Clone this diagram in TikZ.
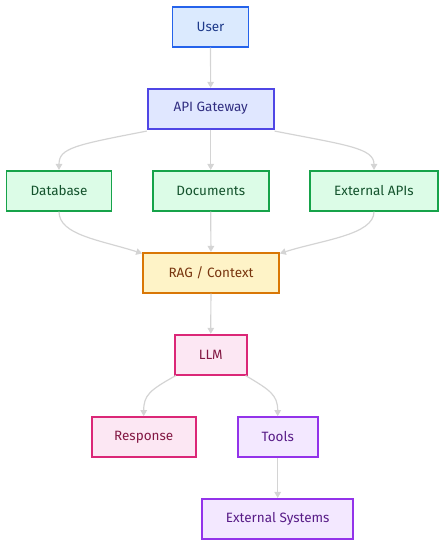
\documentclass[tikz,border=0pt]{standalone}
\usepackage{fontspec}
\setmainfont{Fira Sans}
\usetikzlibrary{arrows.meta}

\definecolor{bluefill}{HTML}{DBEAFE}
\definecolor{blueline}{HTML}{2563EB}
\definecolor{bluetext}{HTML}{1E3A8A}
\definecolor{indfill}{HTML}{E0E7FF}
\definecolor{indline}{HTML}{4F46E5}
\definecolor{indtext}{HTML}{312E81}
\definecolor{grnfill}{HTML}{DCFCE7}
\definecolor{grnline}{HTML}{16A34A}
\definecolor{grntext}{HTML}{14532D}
\definecolor{orgfill}{HTML}{FEF3C7}
\definecolor{orgline}{HTML}{D97706}
\definecolor{orgtext}{HTML}{78350F}
\definecolor{pnkfill}{HTML}{FCE7F3}
\definecolor{pnkline}{HTML}{DB2777}
\definecolor{pnktext}{HTML}{831843}
\definecolor{prpfill}{HTML}{F3E8FF}
\definecolor{prpline}{HTML}{9333EA}
\definecolor{prptext}{HTML}{581C87}
\definecolor{edgegray}{HTML}{D4D4D4}

\begin{document}
\begin{tikzpicture}[x=1pt, y=-1pt,
    box/.style={draw, line width=1.7pt, minimum height=40pt, inner sep=0pt, font=\fontsize{13.5}{15}\selectfont},
    bluebox/.style={box, fill=bluefill, draw=blueline, text=bluetext},
    indbox/.style={box, fill=indfill, draw=indline, text=indtext},
    grnbox/.style={box, fill=grnfill, draw=grnline, text=grntext},
    orgbox/.style={box, fill=orgfill, draw=orgline, text=orgtext},
    pnkbox/.style={box, fill=pnkfill, draw=pnkline, text=pnktext},
    prpbox/.style={box, fill=prpfill, draw=prpline, text=prptext},
    link/.style={draw=edgegray, line width=1.2pt, -{Triangle[length=6pt,width=6.5pt]}}]
    \useasboundingbox (0,0) rectangle (445,546);

    \node[bluebox, minimum width=76pt] (user) at (210.5, 26.7) {User};
    \node[indbox, minimum width=126pt] (gateway) at (210.7, 108.7) {API Gateway};
    \node[grnbox, minimum width=105pt] (db) at (59, 190.8) {Database};
    \node[grnbox, minimum width=116pt] (docs) at (210.7, 190.8) {Documents};
    \node[grnbox, minimum width=128pt] (extapis) at (374, 190.8) {External APIs};
    \node[orgbox, minimum width=136pt] (rag) at (211, 272.8) {RAG / Context};
    \node[pnkbox, minimum width=72pt] (llm) at (210.7, 354.7) {LLM};
    \node[pnkbox, minimum width=104pt] (response) at (143.7, 437) {Response};
    \node[prpbox, minimum width=80pt] (tools) at (277.7, 437) {Tools};
    \node[prpbox, minimum width=151pt] (extsys) at (277.7, 518.8) {External Systems};

    \draw[link] (user) -- (gateway);
    \draw[link] ([yshift=-1.5pt]gateway.south west) .. controls (75,145) and (59,148) .. (db.north);
    \draw[link] (gateway) -- (docs);
    \draw[link] ([yshift=-1.5pt]gateway.south east) .. controls (346,145) and (374,148) .. (extapis.north);
    \draw[link] (db.south) .. controls (59,235) and (100,240) .. ([yshift=-1.5pt]rag.north west);
    \draw[link] (docs) -- (rag);
    \draw[link] (extapis.south) .. controls (374,235) and (322,240) .. ([yshift=-1.5pt]rag.north east);
    \draw[link] (rag) -- (llm);
    \draw[link] ([xshift=2pt]llm.south west) .. controls (150,390) and (143.7,395) .. (response.north);
    \draw[link] ([xshift=-2pt]llm.south east) .. controls (270,390) and (277.7,395) .. (tools.north);
    \draw[link] (tools) -- (extsys);
\end{tikzpicture}
\end{document}
